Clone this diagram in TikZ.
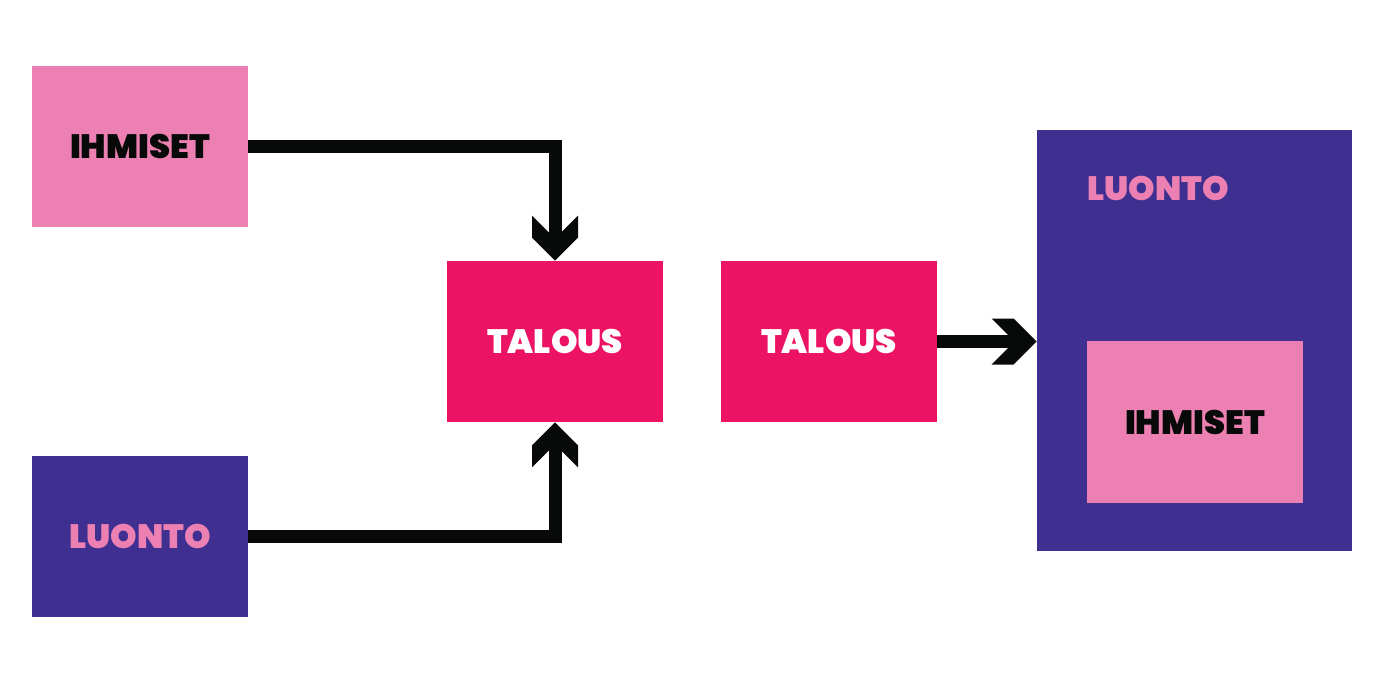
\documentclass[tikz,border=0pt]{standalone}
\usepackage{fontspec}
\setmainfont{Poppins Black}
\usetikzlibrary{calc}
\definecolor{pinkb}{RGB}{236,128,178}
\definecolor{purpb}{RGB}{62,47,144}
\definecolor{magb}{RGB}{237,19,100}
\definecolor{inkb}{RGB}{8,10,10}
\newcommand\mychev[2]{\fill[inkb,shift={(#1)},rotate=#2] (0,0) -- (-23,23) -- (-45,23) -- (-22,0) -- (-45,-23) -- (-23,-23) -- cycle;}
\begin{document}
\begin{tikzpicture}[x=0.02cm,y=-0.02cm,
  box/.style={rectangle, inner sep=0pt, minimum width=4.32cm, minimum height=3.22cm, font=\fontsize{19.2}{20}\selectfont},
  lbl/.style={inner sep=0pt, font=\fontsize{19.2}{20}\selectfont},
  conn/.style={draw=inkb, line width=0.26cm, line join=miter}]
\useasboundingbox (0,0) rectangle (1399,683);
\node[box, fill=pinkb, text=inkb] (ih) at (140,146.5) {IHMISET};
\node[box, fill=purpb, text=pinkb] (lu) at (140,536.5) {LUONTO};
\node[box, fill=magb, text=white] (t1) at (555,341.5) {TALOUS};
\node[box, fill=magb, text=white] (t2) at (829,341.5) {TALOUS};
\node[rectangle, inner sep=0pt, minimum width=6.3cm, minimum height=8.42cm, fill=purpb] (big) at (1194.5,340.5) {};
\node[lbl, text=pinkb] (bigl) at (1158,188) {LUONTO};
\node[box, fill=pinkb, text=inkb, minimum height=3.24cm] (ih2) at (1195,422) {IHMISET};
\draw[conn] (ih.east) -| ($(t1.north)+(0,-20)$);
\draw[conn] (lu.east) -| ($(t1.south)+(0,20)$);
\draw[conn] (t2.east) -- ($(big.west |- t2.east)+(-20,0)$);
\mychev{t1.north}{-90}
\mychev{t1.south}{90}
\mychev{big.west |- t2.east}{0}
\end{tikzpicture}
\end{document}
